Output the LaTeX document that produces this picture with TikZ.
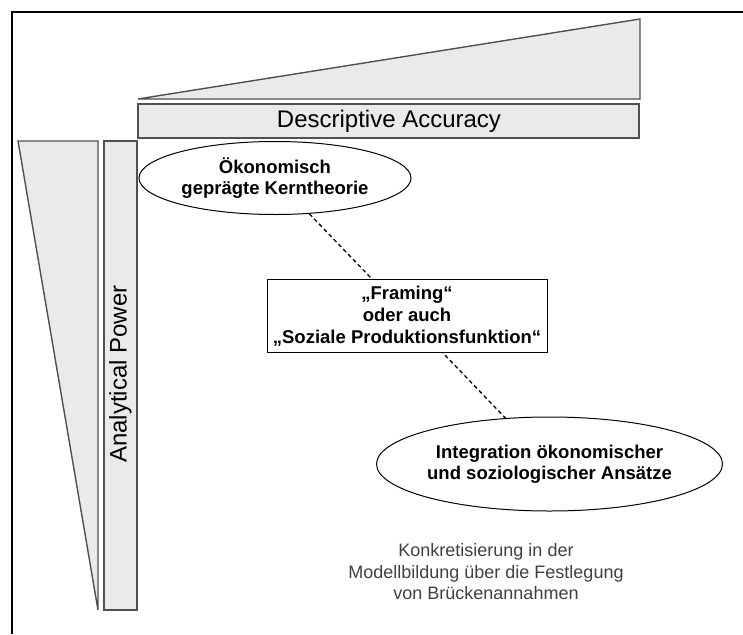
\documentclass[tikz,border=0pt]{standalone}
\usepackage{fontspec}
\setmainfont{Liberation Sans}
\usetikzlibrary{shapes.geometric,backgrounds}
\definecolor{wedgefill}{RGB}{234,234,234}
\definecolor{wedgeline}{RGB}{80,80,80}
\definecolor{notegray}{RGB}{64,64,64}

\begin{document}
\begin{tikzpicture}[x=1pt,y=-1pt,
	wedge/.style={fill=wedgefill,draw=wedgeline,line width=1.4pt},
	axislabel/.style={font=\fontsize{24}{28}\selectfont},
	theory/.style={ellipse,draw,line width=1pt,inner sep=0pt,align=center,
		font=\fontsize{18.5}{21}\selectfont\bfseries},
	bridge/.style={rectangle,draw,fill=white,line width=1pt,inner sep=0pt,align=center,
		font=\fontsize{18.5}{22}\selectfont\bfseries}]
\useasboundingbox (0,0) rectangle (743,634);
%frame
\draw[line width=1.2pt] (12,634) -- (12,12) -- (743,12);
%top wedge
\filldraw[wedge] (138,99) -- (640,19) -- (640,99) -- cycle;
\filldraw[wedge] (138,104) rectangle (639,138);
\path (389,121) node[axislabel] (desc) {Descriptive Accuracy};
%left wedge
\filldraw[wedge] (18,141) -- (98,141) -- (98,610) -- cycle;
\filldraw[wedge] (104,141) rectangle (137,610);
\path (120.5,374) node[axislabel,rotate=90] (anapow) {Analytical Power};
%theories
\path (275,178) node[theory,minimum width=272pt,minimum height=73pt] (oekon)
	{Ökonomisch\\geprägte Kerntheorie};
\path (407,316) node[bridge,minimum width=280pt,minimum height=73pt] (framing)
	{„Framing“\\oder auch\\„Soziale Produktionsfunktion“};
\path (549.5,464) node[theory,minimum width=291pt,minimum height=94pt] (integr)
	{Integration ökonomischer\\und soziologischer Ansätze};
\begin{scope}[on background layer]
\draw[dash pattern=on 4pt off 3pt,line width=1.3pt] (oekon) -- (integr);
\end{scope}
%note
\path (486,572) node[align=center,text=notegray,font=\fontsize{18}{21.5}\selectfont] (note)
	{Konkretisierung in der\\Modellbildung über die Festlegung\\von Brückenannahmen};
\end{tikzpicture}
\end{document}
